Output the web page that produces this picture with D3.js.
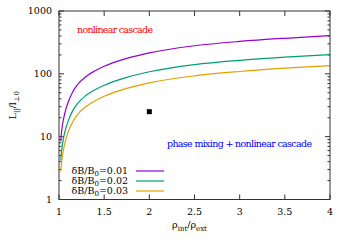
<!DOCTYPE html>
<html>
<head>
<meta charset="utf-8">
<script src="https://cdn.jsdelivr.net/npm/d3@7"></script>
<style>
  body { margin: 0; background: #fff; }
  svg { display: block; }
</style>
</head>
<body>
<div id="chart"></div>
<script>
const rho = [1.02, 1.03, 1.05, 1.075, 1.1, 1.15, 1.2, 1.3, 1.4, 1.5, 1.75, 2.0, 2.5, 3.0, 3.5, 4.0];
const db001 = [8.5, 12.5, 19, 27, 35, 51, 66, 91, 112, 132, 176, 216, 280, 328, 368, 405];
const db002 = [4.2, 6.2, 9.5, 13.5, 17.5, 25.5, 33, 45.5, 56, 66, 88, 108, 140, 164, 184, 202];
const db003 = [2.8, 4.1, 6.3, 9, 11.7, 17, 22, 30.3, 37.3, 44, 58.7, 72, 93, 109, 123, 135];
const seriesNames = ['0.01', '0.02', '0.03'];
const seriesColors = ['#9400d3', '#009e73', '#e69f00'];
const marker = [{x: 2.0, y: 25}];
const xTicks = [1, 1.5, 2, 2.5, 3, 3.5, 4];
const yTicks = [1, 10, 100, 1000];

const W = 350, H = 245;
const margin = {top: 11, right: 20, bottom: 45.5, left: 59};
const width = W - margin.left - margin.right,
      height = H - margin.top - margin.bottom;

const font = 'DejaVu Serif';
const svg = d3.select('#chart').append('svg')
    .attr('width', W)
    .attr('height', H)
    .style('font-family', font);

const g = svg.append('g')
    .attr('transform', `translate(${margin.left},${margin.top})`);

const x = d3.scaleLinear().domain([1, 4]).range([0, width]);
const y = d3.scaleLog().domain([1, 1000]).range([height, 0]);

const axisColor = '#333';
const fs = 9.5;
const sub = 7;

// minor log ticks
const minor = [];
[1, 10, 100].forEach(d => { for (let k = 2; k <= 9; k++) minor.push(d * k); });

// ticks (inward, mirrored)
const tickG = g.append('g').attr('stroke', axisColor).attr('stroke-width', 1);
yTicks.forEach(v => {
    tickG.append('line').attr('x1', 0).attr('x2', 5).attr('y1', y(v)).attr('y2', y(v));
    tickG.append('line').attr('x1', width).attr('x2', width - 5).attr('y1', y(v)).attr('y2', y(v));
});
minor.forEach(v => {
    tickG.append('line').attr('x1', 0).attr('x2', 2.5).attr('y1', y(v)).attr('y2', y(v));
    tickG.append('line').attr('x1', width).attr('x2', width - 2.5).attr('y1', y(v)).attr('y2', y(v));
});
xTicks.forEach(v => {
    tickG.append('line').attr('x1', x(v)).attr('x2', x(v)).attr('y1', height).attr('y2', height - 5);
    tickG.append('line').attr('x1', x(v)).attr('x2', x(v)).attr('y1', 0).attr('y2', 5);
});

// tick labels
g.selectAll('.ylab').data(yTicks).enter().append('text')
    .attr('x', -7).attr('y', d => y(d))
    .attr('dy', '0.35em')
    .attr('text-anchor', 'end')
    .attr('font-size', fs)
    .text(d => d);

g.selectAll('.xlab').data(xTicks).enter().append('text')
    .attr('x', d => x(d)).attr('y', height + 15)
    .attr('text-anchor', 'middle')
    .attr('font-size', fs)
    .text(d => d);

// curves
const seriesData = [db001, db002, db003];
const line = d3.line()
    .x(d => x(d[0]))
    .y(d => y(d[1]))
    .curve(d3.curveMonotoneX);

seriesData.forEach((vals, i) => {
    g.append('path')
        .datum(rho.map((r, j) => [r, vals[j]]))
        .attr('fill', 'none')
        .attr('stroke', seriesColors[i])
        .attr('stroke-width', 1.2)
        .attr('d', line);
});

// marker
g.selectAll('.pt').data(marker).enter().append('rect')
    .attr('x', d => x(d.x) - 2.5)
    .attr('y', d => y(d.y) - 2.5)
    .attr('width', 5).attr('height', 5)
    .attr('fill', '#000');

// annotations
g.append('text')
    .attr('x', 18).attr('y', 22)
    .attr('font-size', fs)
    .attr('textLength', 76)
    .attr('fill', '#ff0000')
    .text('nonlinear cascade');

g.append('text')
    .attr('x', 108).attr('y', 135.5)
    .attr('font-size', fs)
    .attr('textLength', 145)
    .attr('fill', '#0000ff')
    .text('phase mixing + nonlinear cascade');

// legend
const legend = g.append('g');
seriesNames.forEach((n, i) => {
    const ly = 160 + i * 10;
    const t = legend.append('text')
        .attr('x', 69).attr('y', ly)
        .attr('dy', '0.3em')
        .attr('text-anchor', 'end')
        .attr('font-size', fs);
    t.append('tspan').text('δB/B');
    t.append('tspan').attr('dy', 2.5).attr('font-size', sub).text('0');
    t.append('tspan').attr('dy', -2.5).text('=' + n);
    legend.append('line')
        .attr('x1', 77).attr('x2', 105)
        .attr('y1', ly).attr('y2', ly)
        .attr('stroke', seriesColors[i])
        .attr('stroke-width', 1.2);
});

// frame
g.append('rect')
    .attr('width', width).attr('height', height)
    .attr('fill', 'none')
    .attr('stroke', axisColor)
    .attr('stroke-width', 1);

// axis titles
const xt = svg.append('text')
    .attr('x', margin.left + x(2.5) - 5).attr('y', 228)
    .attr('text-anchor', 'middle')
    .attr('font-size', fs);
xt.append('tspan').text('ρ');
xt.append('tspan').attr('dy', 2.5).attr('font-size', sub).text('int');
xt.append('tspan').attr('dy', -2.5).text('/ρ');
xt.append('tspan').attr('dy', 2.5).attr('font-size', sub).text('ext');

const yt = svg.append('text')
    .attr('transform', `translate(16,${margin.top + height / 2}) rotate(-90)`)
    .attr('text-anchor', 'middle')
    .attr('font-size', fs);
yt.append('tspan').text('L');
yt.append('tspan').attr('dy', 2.5).attr('font-size', sub).text('||');
yt.append('tspan').attr('dy', -2.5).text('/l');
yt.append('tspan').attr('dy', 2.5).attr('font-size', sub).text('⊥0');
</script>
</body>
</html>
